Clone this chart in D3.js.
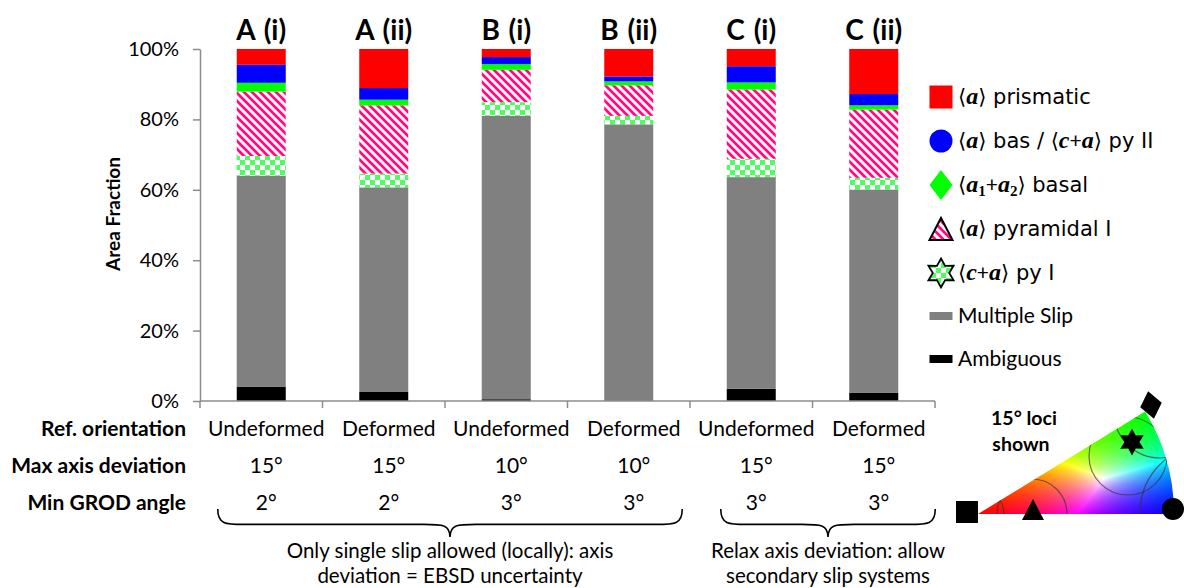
<!DOCTYPE html>
<html>
<head>
<meta charset="utf-8">
<script src="https://cdn.jsdelivr.net/npm/d3@7"></script>
<style>
  html, body { margin: 0; padding: 0; background: #fff; }
  svg { display: block; }
  text { font-family: Lato, "Open Sans", sans-serif; fill: #000; }
</style>
</head>
<body>
<svg id="chart" width="1184" height="588"></svg>
<script>
// ---- data ----
const categories = ["A (i)", "A (ii)", "B (i)", "B (ii)", "C (i)", "C (ii)"];

// area fractions in percent, bottom segment first
const ambiguous     = [4.0, 2.7, 0.5, 0.0, 3.5, 2.4];
const multipleSlip  = [60.0, 58.0, 80.5, 78.6, 60.1, 57.7];
const caPyramidalI  = [5.6, 3.9, 3.9, 2.4, 5.2, 3.3];
const aPyramidalI   = [18.3, 19.4, 9.2, 8.7, 19.7, 19.4];
const a1a2Basal     = [2.5, 1.6, 1.6, 1.1, 2.0, 1.2];
const aBasalCaPyII  = [5.1, 3.3, 2.0, 1.4, 4.6, 3.2];
const aPrismatic    = [4.5, 11.1, 2.3, 7.8, 4.9, 12.8];

const yTicks = [0, 20, 40, 60, 80, 100];

const refOrientation   = ["Undeformed", "Deformed", "Undeformed", "Deformed", "Undeformed", "Deformed"];
const maxAxisDeviation = ["15°", "15°", "10°", "10°", "15°", "15°"];
const minGrodAngle     = ["2°", "2°", "3°", "3°", "3°", "3°"];
const rowLabels        = ["Ref. orientation", "Max axis deviation", "Min GROD angle"];

const groupNotes = [
  { from: 0, to: 3, lines: ["Only single slip allowed (locally): axis", "deviation = EBSD uncertainty"] },
  { from: 4, to: 5, lines: ["Relax axis deviation: allow", "secondary slip systems"] }
];

// ---- series definitions (stack order bottom -> top) ----
const series = [
  { key: "ambiguous",    values: ambiguous,    fill: "#000000" },
  { key: "multipleSlip", values: multipleSlip, fill: "#808080" },
  { key: "caPyramidalI", values: caPyramidalI, fill: "url(#checker)" },
  { key: "aPyramidalI",  values: aPyramidalI,  fill: "url(#hatch)" },
  { key: "a1a2Basal",    values: a1a2Basal,    fill: "#00ff00" },
  { key: "aBasalCaPyII", values: aBasalCaPyII, fill: "#0000ff" },
  { key: "aPrismatic",   values: aPrismatic,   fill: "#ff0000" }
];

const rows = categories.map((c, i) => {
  const r = { category: c };
  series.forEach(s => r[s.key] = s.values[i]);
  return r;
});

const svg = d3.select("#chart");
svg.append("rect").attr("width", 1184).attr("height", 588).attr("fill", "#fff");

// ---- patterns ----
const defs = svg.append("defs");
const hatch = defs.append("pattern").attr("id", "hatch")
  .attr("patternUnits", "userSpaceOnUse").attr("width", 8).attr("height", 8);
hatch.append("rect").attr("width", 8).attr("height", 8).attr("fill", "#fff");
hatch.append("path").attr("d", "M-2,-2L10,10M-2,6L2,10M6,-2L10,2")
  .attr("stroke", "#ff0a85").attr("stroke-width", 2.7);

const checker = defs.append("pattern").attr("id", "checker")
  .attr("patternUnits", "userSpaceOnUse").attr("width", 10).attr("height", 10);
checker.append("rect").attr("width", 10).attr("height", 10).attr("fill", "#fff");
checker.append("rect").attr("width", 5).attr("height", 5).attr("fill", "#4dff5e");
checker.append("rect").attr("x", 5).attr("y", 5).attr("width", 5).attr("height", 5).attr("fill", "#4dff5e");

// ---- scales ----
const x = d3.scaleBand().domain(categories).range([200, 935]).paddingInner(0.6).paddingOuter(0.3);
const y = d3.scaleLinear().domain([0, 100]).range([401, 49]);

const stack = d3.stack().keys(series.map(s => s.key));
const stacked = stack(rows);

// ---- bars ----
const layers = svg.append("g").selectAll("g").data(stacked).join("g")
  .attr("fill", (d, i) => series[i].fill);
layers.selectAll("rect").data(d => d).join("rect")
  .attr("x", d => x(d.data.category))
  .attr("width", x.bandwidth())
  .attr("y", d => y(d[1]))
  .attr("height", d => Math.max(0, y(d[0]) - y(d[1])));

// ---- y axis ----
const yAxis = svg.append("g").attr("transform", "translate(200,0)")
  .call(d3.axisLeft(y).tickValues(yTicks).tickSize(7).tickSizeOuter(0).tickPadding(14)
    .tickFormat(d => d + "%"));
yAxis.select(".domain").attr("stroke", "#8c8c8c").attr("stroke-width", 1.5);
yAxis.selectAll(".tick line").attr("stroke", "#8c8c8c").attr("stroke-width", 1.5);
yAxis.selectAll(".tick text").attr("font-size", 20).attr("font-family", "Lato, sans-serif").attr("fill", "#000");

svg.append("text")
  .attr("transform", "translate(120,214) rotate(-90)")
  .attr("text-anchor", "middle")
  .attr("font-size", 19).attr("font-weight", "bold")
  .text("Area Fraction");

// ---- x axis with ticks at category boundaries ----
const xg = svg.append("g");
xg.append("line").attr("x1", 200).attr("x2", 935).attr("y1", 401).attr("y2", 401)
  .attr("stroke", "#8c8c8c").attr("stroke-width", 1.5);
d3.range(categories.length + 1).forEach(i => {
  const bx = x.range()[0] + i * x.step();
  xg.append("line").attr("x1", bx).attr("x2", bx).attr("y1", 401).attr("y2", 408)
    .attr("stroke", "#8c8c8c").attr("stroke-width", 1.5);
});

// ---- bar titles ----
svg.append("g").selectAll("text").data(categories).join("text")
  .attr("x", d => x(d) + x.bandwidth() / 2)
  .attr("y", 40)
  .attr("text-anchor", "middle")
  .attr("font-size", 28).attr("font-weight", "bold")
  .attr("word-spacing", 2)
  .text(d => d);

// ---- table under axis ----
const tableRows = [refOrientation, maxAxisDeviation, minGrodAngle];
const rowY = [429, 466, 503];
tableRows.forEach((vals, r) => {
  svg.append("text").attr("x", 186).attr("y", rowY[r]).attr("dy", "0.35em")
    .attr("text-anchor", "end").attr("font-size", 21).attr("font-weight", "bold")
    .text(rowLabels[r]);
  svg.append("g").selectAll("text").data(vals).join("text")
    .attr("x", (d, i) => x(categories[i]) + x.bandwidth() / 2 + 5)
    .attr("y", rowY[r]).attr("dy", "0.35em")
    .attr("text-anchor", "middle").attr("font-size", 21)
    .text(d => d);
});

// ---- braces grouping the columns ----
function bracePath(x1, x2, yTop, depth) {
  const xm = (x1 + x2) / 2;
  const yMid = yTop + depth * 0.55;
  const yTip = yTop + depth;
  const c = 26;
  return `M${x1},${yTop} C${x1},${yMid} ${x1 + c * 0.3},${yMid} ${x1 + c},${yMid}` +
         ` L${xm - c},${yMid} C${xm - c * 0.3},${yMid} ${xm},${yMid} ${xm},${yTip}` +
         ` C${xm},${yMid} ${xm + c * 0.3},${yMid} ${xm + c},${yMid}` +
         ` L${x2 - c},${yMid} C${x2 - c * 0.3},${yMid} ${x2},${yMid} ${x2},${yTop}`;
}
const bracePad = [[-19, 29], [-6, 37]];
groupNotes.forEach((g, gi) => {
  const x1 = x(categories[g.from]) + bracePad[gi][0];
  const x2 = x(categories[g.to]) + x.bandwidth() + bracePad[gi][1];
  svg.append("path").attr("d", bracePath(x1, x2, 509, 28))
    .attr("fill", "none").attr("stroke", "#000").attr("stroke-width", 1.6);
  const xm = (x1 + x2) / 2;
  g.lines.forEach((ln, k) => {
    svg.append("text").attr("x", xm).attr("y", 558 + k * 25)
      .attr("text-anchor", "middle").attr("font-size", 20.5).text(ln);
  });
});

// ---- legend ----
const MATH = "'Liberation Serif', 'DejaVu Serif', serif";
const legendItems = [
  { marker: "square", parts: [["⟨"], ["a", "m"], ["⟩ prismatic"]] },
  { marker: "circle", parts: [["⟨"], ["a", "m"], ["⟩ bas / ⟨"], ["c", "m"], ["+"], ["a", "m"], ["⟩ py II"]] },
  { marker: "diamond", parts: [["⟨"], ["a", "m"], ["1", "s"], ["+"], ["a", "m"], ["2", "s"], ["⟩ basal"]] },
  { marker: "triangle", parts: [["⟨"], ["a", "m"], ["⟩ pyramidal I"]] },
  { marker: "star", parts: [["⟨"], ["c", "m"], ["+"], ["a", "m"], ["⟩ py I"]] },
  { marker: "bargrey", parts: [["Multiple Slip"]] },
  { marker: "barblack", parts: [["Ambiguous"]] }
];
const legendY = [97, 141, 185, 229, 273, 316, 359];

function starPath(ro, ri) {
  const pts = d3.range(12).map(k => {
    const a = -Math.PI / 2 + k * Math.PI / 6;
    const r = k % 2 ? ri : ro;
    return [r * Math.cos(a), r * Math.sin(a)];
  });
  return "M" + pts.map(p => p.join(",")).join("L") + "Z";
}

legendItems.forEach((it, i) => {
  const g = svg.append("g").attr("transform", `translate(941,${legendY[i]})`);
  switch (it.marker) {
    case "square":
      g.append("rect").attr("x", -11.5).attr("y", -11.5).attr("width", 23).attr("height", 23).attr("fill", "#ff0000"); break;
    case "circle":
      g.append("circle").attr("r", 11.5).attr("fill", "#0000ff"); break;
    case "diamond":
      g.append("path").attr("d", "M0,-15L11.5,0L0,15L-11.5,0Z").attr("fill", "#00ff00"); break;
    case "triangle":
      g.append("path").attr("d", "M0,-11L11.5,11L-11.5,11Z").attr("fill", "url(#hatch)")
        .attr("stroke", "#000").attr("stroke-width", 2); break;
    case "star":
      g.append("path").attr("d", starPath(14.5, 8.2)).attr("fill", "url(#checker)")
        .attr("stroke", "#000").attr("stroke-width", 1.8); break;
    case "bargrey":
      g.append("rect").attr("x", -11.5).attr("y", -4).attr("width", 23).attr("height", 8).attr("fill", "#808080"); break;
    case "barblack":
      g.append("rect").attr("x", -11.5).attr("y", -4).attr("width", 23).attr("height", 8).attr("fill", "#000"); break;
  }
  const t = svg.append("text").attr("x", 958).attr("y", legendY[i]).attr("dy", "0.35em").attr("font-size", 21);
  it.parts.forEach(([s, kind]) => {
    const sp = t.append("tspan").text(s);
    if (kind === "m") {
      sp.attr("font-family", MATH).attr("font-style", "italic").attr("font-weight", "bold").attr("font-size", 24);
    } else if (kind === "s") {
      sp.attr("font-family", MATH).attr("font-weight", "bold").attr("font-size", 15).attr("dy", "4");
    } else if (s.includes("⟨") || s.includes("⟩")) {
      sp.attr("font-family", "'DejaVu Sans', sans-serif").attr("font-size", 21);
    }
  });
  // restore baseline after subscripts
  t.selectAll("tspan").each(function(d, k, nodes) {
    const prev = k > 0 ? nodes[k - 1] : null;
    if (prev && prev.getAttribute("dy") === "4" && !this.getAttribute("dy")) this.setAttribute("dy", "-4");
  });
});

// ---- inverse pole figure key (hexagonal, 0001 / 2-1-10 / 10-10) ----
const apex = [978, 514], R = 196, theta = 31.5 * Math.PI / 180;
const ipf = svg.append("g");
const wedgeD = `M${apex[0]},${apex[1]} L${apex[0] + R},${apex[1]} A${R},${R} 0 0 0 ${apex[0] + R * Math.cos(theta)},${apex[1] - R * Math.sin(theta)} Z`;
defs.append("clipPath").attr("id", "wedge").append("path").attr("d", wedgeD);

const ox = 970, oy = 405, cw = 210, ch = 112;
const canvas = document.createElement("canvas");
canvas.width = cw; canvas.height = ch;
const ctx = canvas.getContext("2d");
const img = ctx.createImageData(cw, ch);
for (let py = 0; py < ch; py++) {
  for (let px = 0; px < cw; px++) {
    const dx = ox + px + 0.5 - apex[0], dy = apex[1] - (oy + py + 0.5);
    const rho = Math.min(1, Math.hypot(dx, dy) / R);
    const phi = Math.max(0, Math.min(1, Math.atan2(dy, dx) / theta));
    let r = 1 - rho, g = rho * phi, b = rho * (1 - phi);
    const m = Math.max(r, g, b) || 1;
    const o = (py * cw + px) * 4;
    img.data[o] = Math.round(255 * r / m);
    img.data[o + 1] = Math.round(255 * g / m);
    img.data[o + 2] = Math.round(255 * b / m);
    img.data[o + 3] = 255;
  }
}
ctx.putImageData(img, 0, 0);
ipf.append("image").attr("href", canvas.toDataURL())
  .attr("x", ox).attr("y", oy).attr("width", cw).attr("height", ch)
  .attr("clip-path", "url(#wedge)");

// 15 degree loci around the slip directions
const loci = [
  [978, 514, 26], [1032, 514, 35], [1128, 456, 39], [1160, 412, 46], [1209, 513, 69]
];
ipf.append("g").attr("clip-path", "url(#wedge)").selectAll("circle").data(loci).join("circle")
  .attr("cx", d => d[0]).attr("cy", d => d[1]).attr("r", d => d[2])
  .attr("fill", "none").attr("stroke", "#333").attr("stroke-opacity", 0.65).attr("stroke-width", 1.2);

// pole markers
ipf.append("rect").attr("x", 956).attr("y", 501).attr("width", 22).attr("height", 22).attr("fill", "#000");
ipf.append("path").attr("d", "M1033,499L1044,520L1022,520Z").attr("fill", "#000");
ipf.append("circle").attr("cx", 1173).attr("cy", 509).attr("r", 11).attr("fill", "#000");
ipf.append("path").attr("d", "M0,-14L11,0L0,14L-11,0Z").attr("transform", "translate(1151,405) rotate(-12)").attr("fill", "#000");
ipf.append("path").attr("d", starPath(13.5, 7.5)).attr("transform", "translate(1132,442)").attr("fill", "#000");

ipf.append("text").attr("x", 1024).attr("y", 425).attr("text-anchor", "middle")
  .attr("font-size", 19.5).attr("font-weight", "bold").text("15° loci");
ipf.append("text").attr("x", 1021).attr("y", 451).attr("text-anchor", "middle")
  .attr("font-size", 19.5).attr("font-weight", "bold").text("shown");
</script>
</body>
</html>
